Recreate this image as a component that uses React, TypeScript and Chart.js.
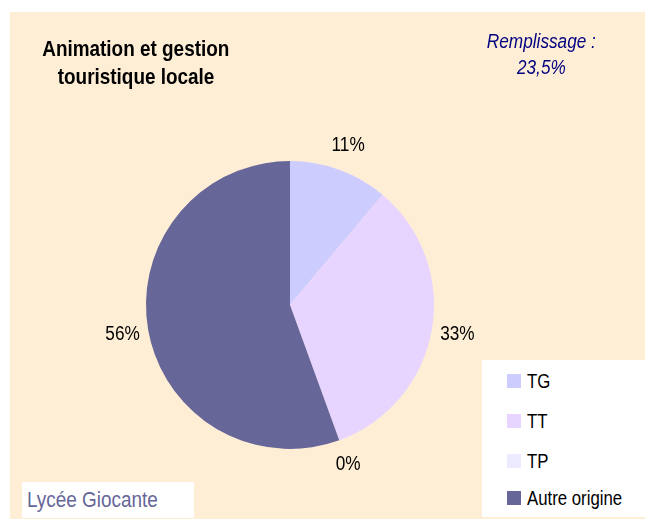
import React, { useEffect, useRef } from "react";
import { Chart, registerables } from "chart.js";

Chart.register(...registerables);

const categories = ["TG", "TT", "TP", "Autre origine"];
const counts = [1, 3, 0, 5];
const colors = ["#CCCCFF", "#E8D5FF", "#EDEBFF", "#666699"];
const titleLines = ["Animation et gestion", "touristique locale"];
const noteLines = ["Remplissage :", "23,5%"];
const footer = "Lycée Giocante";

const FONT = "'Liberation Sans', Arial, sans-serif";
const SX = 0.86;

const labelPlugin = {
  id: "outsideLabels",
  afterDatasetsDraw(chart: any) {
    const ctx = chart.ctx;
    const meta = chart.getDatasetMeta(0);
    const data = chart.data.datasets[0].data as number[];
    const total = data.reduce((a, b) => a + b, 0);
    meta.data.forEach((arc: any, i: number) => {
      const p = arc.getProps(["x", "y", "startAngle", "endAngle", "outerRadius"], true);
      const mid = (p.startAngle + p.endAngle) / 2;
      const R = p.outerRadius + 26;
      const x = p.x + Math.cos(mid) * R;
      const y = p.y + Math.sin(mid) * R;
      const pct = Math.round((data[i] / total) * 100);
      ctx.save();
      ctx.font = `20px ${FONT}`;
      ctx.fillStyle = "#000000";
      ctx.textAlign = "center";
      ctx.textBaseline = "middle";
      ctx.translate(x, y);
      ctx.scale(SX, 1);
      ctx.fillText(`${pct}%`, 0, 0);
      ctx.restore();
    });
  },
};

const squeeze = (origin: string): React.CSSProperties => ({
  display: "inline-block",
  transform: `scaleX(${SX})`,
  transformOrigin: origin,
  whiteSpace: "nowrap",
});

export default function App() {
  const ref = useRef<HTMLCanvasElement | null>(null);
  useEffect(() => {
    if (!ref.current) return;
    const chart = new Chart(ref.current, {
      type: "pie",
      data: {
        labels: categories,
        datasets: [
          {
            data: counts,
            backgroundColor: colors,
            borderWidth: 0,
          },
        ],
      },
      options: {
        animation: false,
        responsive: false,
        maintainAspectRatio: false,
        layout: { padding: { left: 136, right: 219, top: 149, bottom: 70 } },
        plugins: {
          legend: { display: false },
          tooltip: { enabled: false },
          title: { display: false },
        },
      },
      plugins: [labelPlugin],
    });
    return () => chart.destroy();
  }, []);

  return (
    <div style={{ position: "relative", width: 645, height: 512, fontFamily: FONT }}>
      <div
        style={{
          position: "absolute",
          left: 2,
          top: 4,
          width: 643,
          height: 507,
          background: "#FFEED6",
        }}
      />
      <canvas
        ref={ref}
        width={643}
        height={507}
        style={{ position: "absolute", left: 2, top: 4, width: 643, height: 507 }}
      />
      <div
        style={{
          position: "absolute",
          left: 18,
          top: 27,
          width: 220,
          textAlign: "center",
          fontWeight: "bold",
          fontSize: 22,
          lineHeight: "28px",
          color: "#000",
        }}
      >
        {titleLines.map((l, i) => (
          <div key={i}>
            <span style={squeeze("center")}>{l}</span>
          </div>
        ))}
      </div>
      <div
        style={{
          position: "absolute",
          left: 453,
          top: 20,
          width: 160,
          textAlign: "center",
          fontStyle: "italic",
          fontSize: 20,
          lineHeight: "26px",
          color: "#000080",
        }}
      >
        {noteLines.map((l, i) => (
          <div key={i}>
            <span style={squeeze("center")}>{l}</span>
          </div>
        ))}
      </div>
      <div
        style={{
          position: "absolute",
          left: 474,
          top: 352,
          width: 165,
          height: 157,
          background: "#FFFFFF",
        }}
      >
        {categories.map((c, i) => {
          const ys = [21, 61, 101, 138];
          return (
            <div
              key={c}
              style={{
                position: "absolute",
                left: 25,
                top: ys[i] - 12,
                height: 24,
                display: "flex",
                alignItems: "center",
                fontSize: 19.5,
                color: "#000",
                whiteSpace: "nowrap",
              }}
            >
              <span
                style={{
                  display: "inline-block",
                  width: 14,
                  height: 14,
                  background: colors[i],
                  marginRight: 6,
                  flex: "none",
                }}
              />
              <span style={squeeze("left center")}>{c}</span>
            </div>
          );
        })}
      </div>
      <div
        style={{
          position: "absolute",
          left: 14,
          top: 474,
          width: 172,
          height: 36,
          background: "#FFFFFF",
          color: "#666699",
          fontSize: 22,
          lineHeight: "36px",
          paddingLeft: 5,
          boxSizing: "border-box",
          whiteSpace: "nowrap",
          overflow: "hidden",
        }}
      >
        <span style={squeeze("left center")}>{footer}</span>
      </div>
    </div>
  );
}
